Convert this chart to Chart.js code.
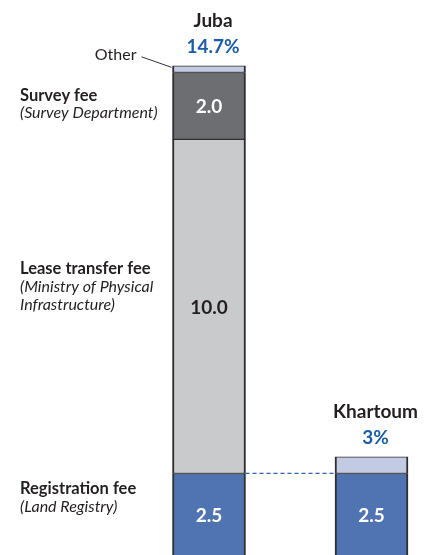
<!DOCTYPE html>
<html>
<head>
<meta charset="utf-8">
<title>Fees: Juba vs Khartoum</title>
<script src="https://cdn.jsdelivr.net/npm/chart.js@4"></script>
<style>
  html, body { margin: 0; padding: 0; background: #ffffff; overflow: hidden; }
  #wrap { position: relative; width: 428px; height: 557px; }
</style>
</head>
<body>
<div id="wrap"><canvas id="feeChart"></canvas></div>
<script>
// Data
const cities = ['Juba', 'Khartoum'];
const registrationFee = [2.5, 2.5];
const leaseTransferFee = [10.0, null];
const surveyFee = [2.0, null];
const otherFees = [0.2, 0.5];

const feeTitles = ['Registration fee', 'Lease transfer fee', 'Survey fee'];
const feeSources = [['(Land Registry)'], ['(Ministry of Physical', 'Infrastructure)'], ['(Survey Department)']];
const otherLabel = 'Other';

const FONT = 'Lato, "Open Sans", sans-serif';
const BLUE_TEXT = '#1b5da6';
const BORDER = '#2e2e2e';

function segment(label, data, color, textColor) {
    return {
        label: label,
        data: data,
        backgroundColor: color,
        borderColor: BORDER,
        borderWidth: { top: 1, bottom: 1, left: 2, right: 2 },
        borderSkipped: false,
        barThickness: 73,
        clip: false,
        textColor: textColor
    };
}

// Draws value labels, totals, city names, side labels and the dashed link
const annotations = {
    id: 'annotations',
    afterDatasetsDraw(chart) {
        const ctx = chart.ctx;
        const yScale = chart.scales.y;
        ctx.save();
        ctx.textBaseline = 'middle';
        ctx.textAlign = 'center';

        // values inside segments (skip "Other")
        chart.data.datasets.forEach((ds, di) => {
            if (!ds.textColor) return;
            chart.getDatasetMeta(di).data.forEach((el, i) => {
                const v = ds.data[i];
                if (v === null || v === undefined) return;
                ctx.font = 'bold 19px ' + FONT;
                ctx.fillStyle = ds.textColor;
                ctx.fillText(v.toFixed(1), el.x, (el.y + el.base) / 2 + 1);
            });
        });

        // city names and totals above each stack
        ctx.textBaseline = 'alphabetic';
        cities.forEach((city, i) => {
            let total = 0;
            chart.data.datasets.forEach(ds => { total += ds.data[i] || 0; });
            const top = yScale.getPixelForValue(total);
            const x = chart.getDatasetMeta(0).data[i].x + 4;
            ctx.font = 'bold 19px ' + FONT;
            ctx.fillStyle = '#231f20';
            ctx.fillText(city, x, top - 39);
            ctx.fillStyle = BLUE_TEXT;
            ctx.fillText(Number(total.toFixed(1)) + '%', x, top - 12.5);
        });

        // dashed link between the registration fee tops
        const reg = chart.getDatasetMeta(0).data;
        const regTop = yScale.getPixelForValue(registrationFee[0]);
        ctx.beginPath();
        ctx.setLineDash([4, 3]);
        ctx.strokeStyle = '#2d62a6';
        ctx.lineWidth = 1.3;
        ctx.moveTo(reg[0].x + reg[0].width / 2, regTop);
        ctx.lineTo(reg[1].x - reg[1].width / 2, regTop);
        ctx.stroke();
        ctx.setLineDash([]);

        // "Other" callout on the first stack
        const otherEl = chart.getDatasetMeta(3).data[0];
        const left = otherEl.x - otherEl.width / 2;
        ctx.beginPath();
        ctx.strokeStyle = '#333333';
        ctx.lineWidth = 1;
        ctx.moveTo(left - 31, otherEl.y - 9);
        ctx.lineTo(left - 1, otherEl.y + 1.5);
        ctx.stroke();
        ctx.font = '16px ' + FONT;
        ctx.fillStyle = '#231f20';
        ctx.textAlign = 'right';
        ctx.fillText(otherLabel, left - 36, otherEl.y - 6);

        // fee descriptions on the left
        const baselines = [[494, 512], [274, 292, 310], [101, 118]];
        ctx.textAlign = 'left';
        feeTitles.forEach((title, k) => {
            const ys = baselines[k];
            ctx.font = 'bold 16.5px ' + FONT;
            ctx.fillStyle = '#231f20';
            ctx.fillText(title, 20, ys[0]);
            ctx.font = 'italic 16px ' + FONT;
            feeSources[k].forEach((line, j) => ctx.fillText(line, 20, ys[j + 1]));
        });

        ctx.restore();
    }
};

const feeChart = new Chart(document.getElementById('feeChart'), {
    type: 'bar',
    data: {
        labels: cities,
        datasets: [
            segment(feeTitles[0], registrationFee, '#5073b2', '#ffffff'),
            segment(feeTitles[1], leaseTransferFee, '#c9cacc', '#231f20'),
            segment(feeTitles[2], surveyFee, '#6d6e71', '#ffffff'),
            segment(otherLabel, otherFees, '#c3cae4', null)
        ]
    },
    options: {
        responsive: true,
        maintainAspectRatio: false,
        animation: false,
        layout: { padding: { left: 209, right: 56.5, top: 0, bottom: 0 } },
        plugins: {
            legend: { display: false },
            tooltip: { enabled: false }
        },
        scales: {
            x: {
                stacked: true,
                offset: false,
                display: false
            },
            y: {
                stacked: true,
                min: 0,
                max: 16.67,
                display: false
            }
        }
    },
    plugins: [annotations]
});
</script>
</body>
</html>
